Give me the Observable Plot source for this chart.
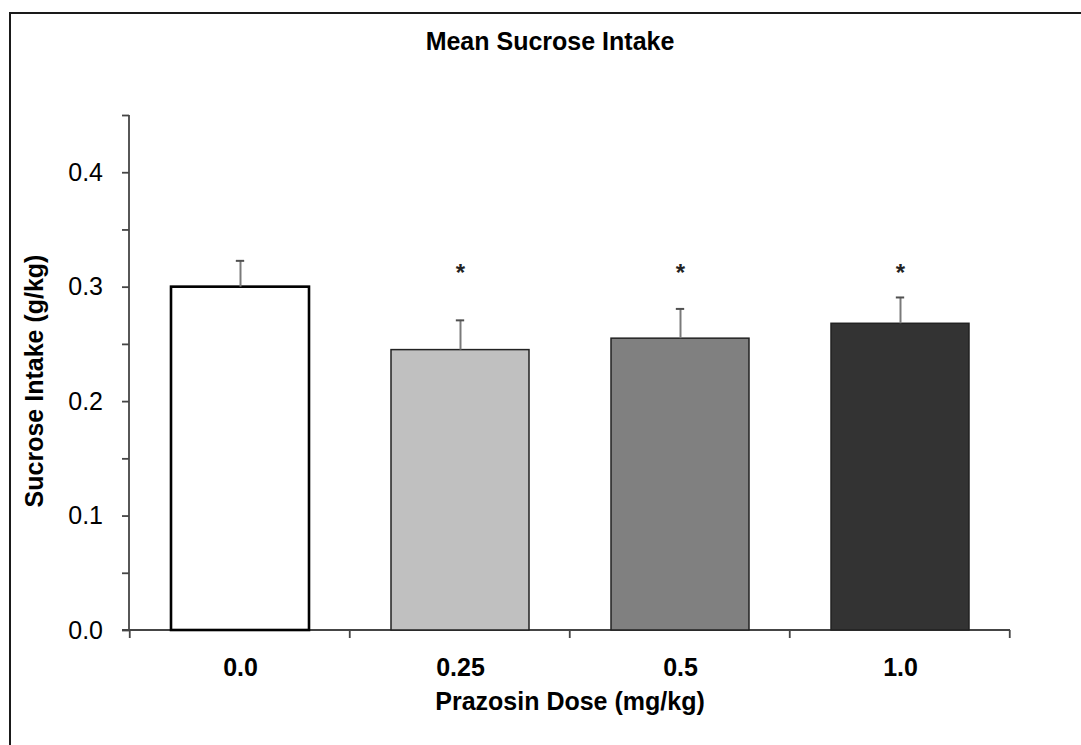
<!DOCTYPE html>
<html>
<head>
<meta charset="utf-8">
<script src="https://cdn.jsdelivr.net/npm/d3@7"></script>
<script src="https://cdn.jsdelivr.net/npm/@observablehq/plot@0.6"></script>
<style>
  html, body { margin: 0; padding: 0; background: #fff; }
  #wrap { position: relative; width: 1081px; height: 745px; overflow: hidden; background: #fff;
          font-family: "Liberation Sans", Arial, sans-serif; }
  #border { position: absolute; left: 9px; top: 12px; width: 1200px; height: 900px;
            border: 2px solid #1a1a1a; box-sizing: border-box; }
  #title { position: absolute; left: 550px; top: 29px; transform: translateX(-50%);
           font-size: 25px; font-weight: bold; line-height: 25px; white-space: nowrap; color: #000; }
  #chart { position: absolute; left: 0; top: 0; }
</style>
</head>
<body>
<div id="wrap">
  <div id="border"></div>
  <div id="chart"></div>
  <div id="title"></div>
</div>
<script>
// ---- data ----
const doses = ["0.0", "0.25", "0.5", "1.0"];
const means = [0.300, 0.245, 0.255, 0.268];
const sems = [0.023, 0.026, 0.026, 0.023];
const significance = ["", "*", "*", "*"];
const yTicks = [0, 0.05, 0.1, 0.15, 0.2, 0.25, 0.3, 0.35, 0.4, 0.45];
const yMajorTicks = [0, 0.1, 0.2, 0.3, 0.4];
const titleText = "Mean Sucrose Intake";
const xLabel = "Prazosin Dose (mg/kg)";
const yLabel = "Sucrose Intake (g/kg)";

// ---- styles ----
const barFills = ["#ffffff", "#c0c0c0", "#808080", "#333333"];
const PAD = 0.375;
const Y_MAX = 0.45;
const SIG_Y = 0.312;
const AXIS_COLOR = "#454545";

const data = doses.map((d, i) => ({
  dose: d, mean: means[i], upper: means[i] + sems[i], sig: significance[i]
}));

document.getElementById("title").textContent = titleText;

const W = 1081, H = 745, ML = 129, MR = 71, MT = 115, MB = 115;
const step = (W - ML - MR) / doses.length;
const bw = step * (1 - PAD);
const capHalf = 4;

function axisLines(index, scales, values, dims) {
  const x = scales.x, y = scales.y;
  const left = dims.marginLeft, right = dims.width - dims.marginRight;
  const y0 = y(0), yTop = y(Y_MAX);
  const st = x(doses[1]) - x(doses[0]);
  const b = st * (1 - PAD);
  const g = d3.create("svg:g").attr("stroke", AXIS_COLOR).attr("stroke-width", 1.8).attr("fill", "none");
  g.append("line").attr("x1", left).attr("x2", left).attr("y1", yTop).attr("y2", y0);
  g.append("line").attr("x1", left - 7).attr("x2", right).attr("y1", y0).attr("y2", y0);
  const bounds = doses.map(d => x(d) - st * PAD / 2);
  bounds.push(x(doses[doses.length - 1]) + b + st * PAD / 2);
  for (const bx of bounds) {
    g.append("line").attr("x1", bx).attr("x2", bx).attr("y1", y0).attr("y2", y0 + 8);
  }
  return g.node();
}

const plot = Plot.plot({
  width: W, height: H,
  marginLeft: ML, marginRight: MR, marginTop: MT, marginBottom: MB,
  style: { fontFamily: "'Liberation Sans', Arial, sans-serif", background: "transparent", color: "#000", overflow: "visible" },
  x: { domain: doses, paddingInner: PAD, paddingOuter: PAD / 2 },
  y: { domain: [0, Y_MAX] },
  color: { type: "ordinal", domain: doses, range: barFills },
  marks: [
    axisLines,
    Plot.barY(data, { x: "dose", y: "mean", fill: "dose", stroke: "#222", strokeWidth: 1.5 }),
    Plot.barY(data.filter(d => d.dose === doses[0]), { x: "dose", y: "mean", fill: "none", stroke: "#000", strokeWidth: 2.6 }),
    Plot.ruleX(data, { x: "dose", y1: "mean", y2: "upper", stroke: "#7a7a7a", strokeWidth: 2 }),
    Plot.tickY(data, { x: "dose", y: "upper", stroke: "#505050", strokeWidth: 2, insetLeft: bw / 2 - capHalf, insetRight: bw / 2 - capHalf }),
    Plot.text(data, { x: "dose", y: () => SIG_Y, text: "sig", fontSize: 24, fontWeight: "bold", fill: "#222" }),
    Plot.axisY({
      ticks: yTicks,
      tickFormat: d => yMajorTicks.some(t => Math.abs(t - d) < 1e-9) ? d3.format(".1f")(d) : "",
      tickSize: 7, tickPadding: 19.5, fontSize: 25, stroke: AXIS_COLOR, strokeWidth: 1.8, fill: "#000", label: null
    }),
    Plot.axisX({ tickSize: 0, tickPadding: 28, fontSize: 25, fontWeight: "bold", fill: "#000", label: null }),
    Plot.text([xLabel], { frameAnchor: "bottom", dy: 79, text: d => d, fontSize: 25, fontWeight: "bold", fill: "#000" }),
    Plot.text([yLabel], { frameAnchor: "left", textAnchor: "middle", rotate: -90, dx: -95, dy: 8, text: d => d, fontSize: 25, fontWeight: "bold", fill: "#000" })
  ]
});
document.getElementById("chart").appendChild(plot);
</script>
</body>
</html>
